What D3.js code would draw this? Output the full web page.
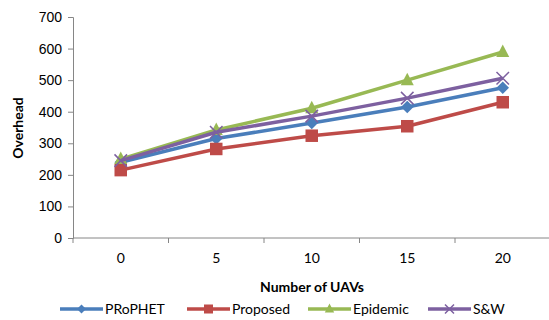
<!DOCTYPE html>
<html>
<head>
<meta charset="utf-8">
<script src="https://cdn.jsdelivr.net/npm/d3@7"></script>
<style>
  html, body { margin: 0; padding: 0; background: #fff; }
  svg { display: block; font-family: Lato, "Open Sans", sans-serif; }
</style>
</head>
<body>
<svg id="chart" width="549" height="320"></svg>
<script>
// Number of UAVs (category axis)
const categories = ["0", "5", "10", "15", "20"];
const yTicks = [0, 100, 200, 300, 400, 500, 600, 700];

// Overhead per protocol
const prophet  = [240, 315, 364, 415, 476];
const proposed = [215, 282, 324, 354, 430];
const epidemic = [250, 342, 411, 500, 589];
const sw       = [245, 335, 386, 443, 506];

const seriesNames  = ["PRoPHET", "Proposed", "Epidemic", "S&W"];
const seriesColors = ["#4A7EBB", "#BE4B48", "#98B954", "#7D60A0"];
const seriesShapes = ["diamond", "square", "triangle", "cross"];

const series = [prophet, proposed, epidemic, sw].map((values, i) => ({
  name: seriesNames[i], color: seriesColors[i], shape: seriesShapes[i], values
}));

const svg = d3.select("#chart");
const margin = { left: 73, top: 17 };

const x = d3.scaleBand().domain(categories).range([margin.left, 550.5]);
const y = d3.scaleLinear().domain([0, 700]).range([238, margin.top]);

const axisColor = "#868686";

// Y axis
const yAxis = svg.append("g")
  .attr("transform", `translate(${margin.left},0)`)
  .call(d3.axisLeft(y).tickValues(yTicks).tickSize(5).tickPadding(6));
yAxis.select(".domain").attr("stroke", axisColor);
yAxis.selectAll(".tick line").attr("stroke", axisColor);
yAxis.selectAll(".tick text").attr("font-size", 14).attr("fill", "#000");

// X axis: ticks on category boundaries, labels centred in each band
const xAxis = svg.append("g").attr("transform", `translate(0,${y(0)})`);
xAxis.append("line")
  .attr("x1", x.range()[0]).attr("x2", x.range()[1])
  .attr("stroke", axisColor);
const bounds = categories.map(c => x(c)).concat([x.range()[1] - 0.5]);
xAxis.selectAll("line.tk").data(bounds).join("line").attr("class", "tk")
  .attr("x1", d => d).attr("x2", d => d).attr("y1", 0).attr("y2", 5)
  .attr("stroke", axisColor);
xAxis.selectAll("text").data(categories).join("text")
  .attr("x", d => x(d) + x.bandwidth() / 2)
  .attr("y", 25)
  .attr("text-anchor", "middle")
  .attr("font-size", 14)
  .text(d => d);

// Axis titles
svg.append("text")
  .attr("x", 312).attr("y", 292)
  .attr("text-anchor", "middle")
  .attr("font-size", 14).attr("font-weight", "bold")
  .text("Number of UAVs");
svg.append("text")
  .attr("transform", "translate(23,128) rotate(-90)")
  .attr("text-anchor", "middle")
  .attr("font-size", 14).attr("font-weight", "bold")
  .text("Overhead");

// Marker drawing
function marker(g, shape, color, s) {
  if (shape === "diamond") {
    const h = s * 0.5;
    g.append("path").attr("d", `M0,${-h}L${h},0L0,${h}L${-h},0Z`).attr("fill", color);
  } else if (shape === "square") {
    g.append("rect").attr("x", -s / 2).attr("y", -s / 2).attr("width", s).attr("height", s).attr("fill", color);
  } else if (shape === "triangle") {
    g.append("path").attr("d", `M0,${-s * 0.6}L${s * 0.52},${s * 0.4}L${-s * 0.52},${s * 0.4}Z`).attr("fill", color);
  } else if (shape === "cross") {
    const h = s * 0.5;
    g.append("path").attr("d", `M${-h},${-h}L${h},${h}M${-h},${h}L${h},${-h}`)
      .attr("stroke", color).attr("stroke-width", 1.5).attr("fill", "none");
  }
}

const line = d3.line()
  .x((d, i) => x(categories[i]) + x.bandwidth() / 2)
  .y(d => y(d));

series.forEach(s => {
  const g = svg.append("g");
  g.append("path").datum(s.values)
    .attr("d", line)
    .attr("fill", "none")
    .attr("stroke", s.color)
    .attr("stroke-width", 3.5)
    .attr("stroke-linejoin", "round");
  s.values.forEach((v, i) => {
    const m = g.append("g")
      .attr("transform", `translate(${x(categories[i]) + x.bandwidth() / 2},${y(v)})`);
    marker(m, s.shape, s.color, 12.5);
  });
});

// Legend
const legendX = [60, 187, 308, 428];
series.forEach((s, i) => {
  const g = svg.append("g").attr("transform", `translate(${legendX[i]},309)`);
  g.append("line").attr("x1", 0).attr("x2", 43).attr("y1", 0).attr("y2", 0)
    .attr("stroke", s.color).attr("stroke-width", 3.5);
  const m = g.append("g").attr("transform", "translate(21.5,0)");
  marker(m, s.shape, s.color, 9);
  g.append("text").attr("x", 45).attr("y", 5)
    .attr("font-size", 14).text(s.name);
});
</script>
</body>
</html>
